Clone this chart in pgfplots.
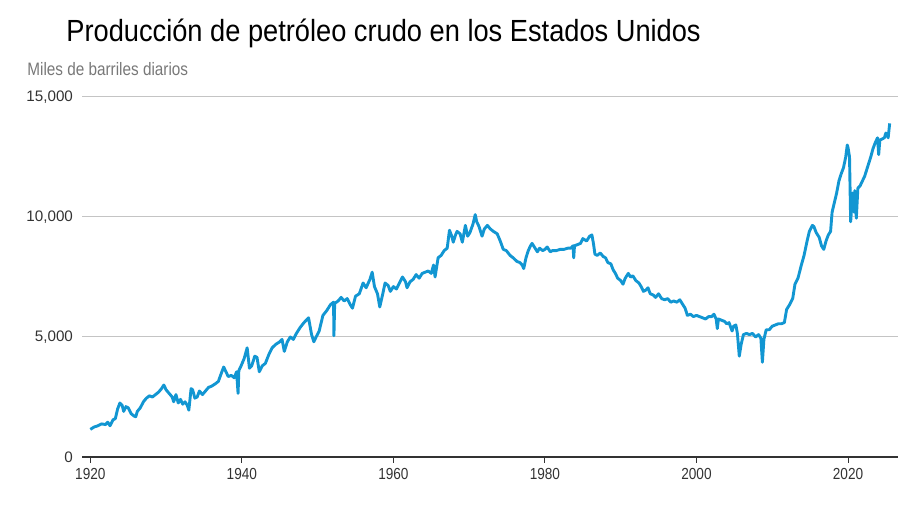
\documentclass[border=0pt]{standalone}
\usepackage{fontspec}
\setmainfont{Liberation Sans}
\newfontfamily\narrowfont[FakeStretch=0.85]{Liberation Sans}
\newfontfamily\titlefont[FakeStretch=0.89]{Liberation Sans}
\usepackage{pgfplots}
\pgfplotsset{compat=1.18}
\definecolor{oil}{RGB}{18,150,210}
\definecolor{gridgray}{RGB}{196,196,196}
\definecolor{ticktxt}{RGB}{51,51,51}
\definecolor{subgray}{RGB}{120,120,120}

\pgfplotstableread{
year value
1920.0 1150
1920.5 1250
1921.0 1300
1921.5 1380
1922.0 1350
1922.3 1450
1922.6 1300
1923.0 1550
1923.3 1600
1923.6 2000
1923.9 2250
1924.2 2150
1924.4 1900
1924.7 2100
1925.0 2050
1925.4 1800
1925.8 1700
1926.0 1680
1926.2 1900
1926.6 2050
1927.0 2300
1927.4 2450
1927.8 2550
1928.2 2500
1928.6 2600
1929.0 2700
1929.4 2850
1929.7 3000
1930.0 2800
1930.4 2650
1930.8 2500
1931.0 2300
1931.3 2600
1931.6 2250
1931.9 2400
1932.2 2200
1932.5 2300
1932.8 2150
1933.0 1950
1933.3 2850
1933.5 2800
1933.8 2450
1934.1 2500
1934.4 2750
1934.8 2600
1935.2 2750
1935.6 2900
1936.0 2950
1936.5 3050
1936.9 3150
1937.3 3500
1937.6 3750
1937.9 3550
1938.2 3350
1938.6 3400
1939.0 3300
1939.3 3550
1939.5 2650
1939.6 3600
1939.9 3800
1940.3 4100
1940.7 4550
1941.0 3700
1941.3 3800
1941.7 4200
1942.0 4150
1942.3 3550
1942.7 3800
1943.1 3900
1943.6 4300
1944.0 4550
1944.5 4700
1945.0 4800
1945.3 4900
1945.6 4400
1946.0 4800
1946.4 5000
1946.8 4900
1947.2 5150
1947.7 5400
1948.2 5600
1948.8 5800
1949.2 5100
1949.5 4800
1949.8 5000
1950.2 5250
1950.7 5900
1951.2 6100
1951.7 6350
1952.1 6450
1952.15 5050
1952.25 6400
1952.7 6500
1953.1 6650
1953.5 6500
1953.9 6600
1954.3 6350
1954.6 6200
1955.0 6700
1955.5 6800
1956.0 7250
1956.4 7050
1956.9 7400
1957.2 7700
1957.5 7100
1957.9 6800
1958.2 6250
1958.6 6800
1958.9 7250
1959.3 7150
1959.6 6900
1960.0 7100
1960.4 7000
1960.8 7250
1961.2 7500
1961.6 7300
1961.8 7050
1962.2 7300
1962.6 7400
1963.0 7600
1963.4 7450
1963.8 7650
1964.2 7700
1964.6 7750
1965.0 7650
1965.3 8000
1965.5 7500
1965.9 8300
1966.3 8400
1966.7 8600
1967.1 8700
1967.4 9450
1967.7 9200
1967.9 8950
1968.2 9250
1968.4 9400
1968.8 9300
1969.1 8950
1969.5 9650
1969.8 9200
1970.1 9350
1970.5 9700
1970.8 10100
1971.0 9800
1971.3 9600
1971.7 9200
1972.0 9500
1972.4 9650
1972.8 9500
1973.2 9400
1973.7 9300
1974.1 9000
1974.5 8650
1974.9 8600
1975.4 8400
1975.8 8300
1976.3 8150
1976.7 8100
1977.0 8000
1977.2 7850
1977.5 8300
1977.8 8600
1978.1 8800
1978.3 8900
1978.7 8700
1979.0 8550
1979.3 8700
1979.7 8600
1980.0 8650
1980.3 8750
1980.7 8550
1981.0 8600
1981.5 8600
1982.0 8650
1982.5 8650
1983.0 8700
1983.4 8700
1983.7 8800
1983.8 8300
1983.9 8800
1984.3 8850
1984.7 8900
1985.0 9100
1985.5 9000
1985.9 9200
1986.2 9250
1986.4 8900
1986.6 8450
1986.9 8400
1987.3 8500
1987.7 8350
1988.0 8300
1988.3 8100
1988.7 8050
1989.0 7800
1989.3 7650
1989.6 7450
1990.0 7350
1990.3 7200
1990.6 7450
1991.0 7650
1991.3 7500
1991.6 7550
1992.0 7350
1992.4 7250
1992.7 7100
1993.0 6900
1993.3 6950
1993.6 7050
1993.9 6800
1994.3 6750
1994.6 6650
1995.0 6800
1995.4 6600
1995.8 6550
1996.2 6600
1996.6 6450
1997.0 6500
1997.4 6450
1997.8 6550
1998.1 6400
1998.5 6200
1998.8 5900
1999.2 5950
1999.6 5850
2000.0 5900
2000.4 5850
2000.8 5800
2001.2 5750
2001.6 5850
2002.0 5850
2002.3 5950
2002.6 5750
2002.75 5350
2002.9 5750
2003.3 5700
2003.7 5650
2004.0 5550
2004.3 5600
2004.7 5250
2004.9 5450
2005.2 5500
2005.4 5150
2005.65 4200
2005.9 4700
2006.2 5100
2006.6 5150
2007.0 5100
2007.4 5150
2007.8 5000
2008.2 5100
2008.5 4950
2008.7 3950
2008.9 4900
2009.2 5300
2009.6 5300
2010.0 5450
2010.4 5500
2010.8 5550
2011.2 5550
2011.6 5600
2011.9 6150
2012.3 6350
2012.7 6600
2013.0 7200
2013.4 7450
2013.8 7950
2014.2 8400
2014.6 9000
2014.9 9400
2015.3 9650
2015.5 9600
2015.8 9350
2016.2 9150
2016.5 8800
2016.8 8650
2017.1 9000
2017.4 9250
2017.7 9400
2017.9 10200
2018.2 10600
2018.5 11000
2018.8 11500
2019.1 11800
2019.4 12050
2019.7 12500
2019.9 13000
2020.0 12900
2020.2 12500
2020.35 9800
2020.5 10500
2020.6 11000
2020.8 10200
2020.9 11100
2021.1 9950
2021.3 11200
2021.6 11300
2021.9 11500
2022.2 11700
2022.5 12000
2022.8 12300
2023.0 12500
2023.3 12850
2023.6 13100
2023.9 13300
2024.05 12600
2024.2 13200
2024.5 13250
2024.8 13300
2025.0 13500
2025.3 13300
2025.5 13900
}\production

\begin{document}
\begin{tikzpicture}
\path[use as bounding box] (-41pt,-27.5pt) rectangle (416pt,228.5pt);
\begin{axis}[
  at={(0pt,0pt)}, anchor=south west,
  scale only axis, width=408pt, height=180pt,
  xmin=1918.9, xmax=2026.6, ymin=0, ymax=15000,
  axis x line*=bottom, axis y line*=left,
  y axis line style={draw=none},
  x axis line style={draw=ticktxt, line width=0.65pt},
  xtick={1920,1940,1960,1980,2000,2020},
  ytick={0,5000,10000,15000},
  xticklabel={\pgfmathprintnumber[1000 sep={}]{\tick}},
  scaled y ticks=false,
  /pgf/number format/assume math mode=true,
  /pgf/number format/1000 sep={,},
  ymajorgrids, grid style={draw=gridgray, line width=0.5pt},
  xtick style={draw=ticktxt, line width=0.5pt},
  ytick style={draw=none},
  xtick align=outside, major tick length=3pt,
  xticklabel style={font=\narrowfont\fontsize{8}{9}\selectfont, text=ticktxt, yshift=1pt},
  yticklabel style={font=\fontsize{7.6}{9}\selectfont, text=ticktxt, xshift=-1pt},
]
\addplot[oil, line width=1.45pt, line join=round] table[x=year, y=value] {\production};
\end{axis}
\node[anchor=base west, inner sep=0pt, font=\titlefont\fontsize{15.3}{17}\selectfont] at (-8pt,207.5pt) {Producción de petróleo crudo en los Estados Unidos};
\node[anchor=base west, inner sep=0pt, text=subgray, font=\narrowfont\fontsize{9}{10}\selectfont] at (-27.5pt,190.5pt) {Miles de barriles diarios};
\end{tikzpicture}
\end{document}
